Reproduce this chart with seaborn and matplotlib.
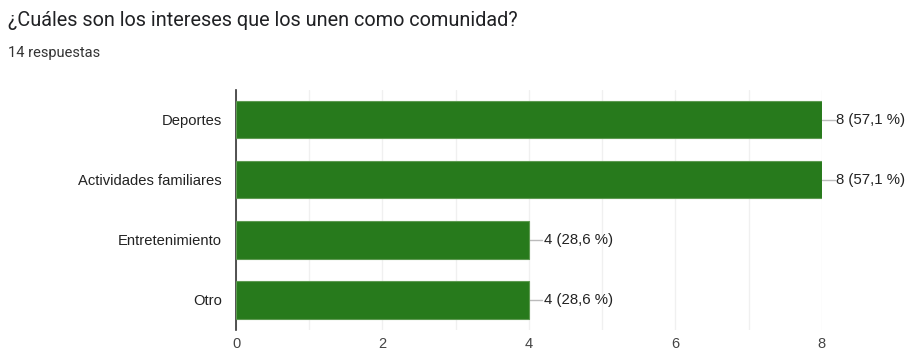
import matplotlib
matplotlib.use("Agg")
import matplotlib.pyplot as plt
import seaborn as sns
import pandas as pd
from matplotlib.ticker import MultipleLocator

categories = ["Deportes", "Actividades familiares", "Entretenimiento", "Otro"]
counts = [8, 8, 4, 4]
labels = ["8 (57,1 %)", "8 (57,1 %)", "4 (28,6 %)", "4 (28,6 %)"]
title = "¿Cuáles son los intereses que los unen como comunidad?"
subtitle = "14 respuestas"

df = pd.DataFrame({"cat": categories, "n": counts})

sns.set_theme(style="white")
plt.rcParams["font.family"] = ["Liberation Sans", "DejaVu Sans"]

fig = plt.figure(figsize=(9.06, 3.51), dpi=100)
ax = fig.add_axes([0.2605, 0.06, 0.907 - 0.2605, 0.684])

sns.barplot(data=df, y="cat", x="n", orient="h", color="#277a1c",
            saturation=1, width=0.62, edgecolor="#5e9a52", linewidth=0.8, ax=ax, zorder=3)

ax.set_xlim(0, 8)
ax.set_ylim(3.5, -0.5)
ax.xaxis.set_major_locator(MultipleLocator(2))
ax.xaxis.set_minor_locator(MultipleLocator(1))
ax.grid(True, which="both", axis="x", color="#f0f0f0", linewidth=1, zorder=0)
ax.set_axisbelow(True)
for s in ["top", "right", "bottom"]:
    ax.spines[s].set_visible(False)
ax.spines["left"].set_color("#333333")
ax.spines["left"].set_linewidth(1.2)
ax.set_xlabel("")
ax.set_ylabel("")
ax.tick_params(axis="x", length=0, labelsize=10.5, colors="#444444", pad=5)
ax.tick_params(axis="y", length=0, labelsize=10.6, colors="#222222", pad=10)

for i, (v, lab) in enumerate(zip(counts, labels)):
    ax.plot([v, v + 0.18], [i, i], color="#bbbbbb", linewidth=1, zorder=2, clip_on=False)
    ax.text(v + 0.2, i, lab, va="center", ha="left", fontsize=10.8, color="#222222", clip_on=False)

fig.text(0.009, 0.942, title, fontsize=14.3, color="#202124", family=["Roboto", "DejaVu Sans"],
         va="center")
fig.text(0.009, 0.849, subtitle, fontsize=10.5, color="#333333", family=["Roboto", "DejaVu Sans"],
         va="center")

fig.savefig("out.png", dpi=100)
